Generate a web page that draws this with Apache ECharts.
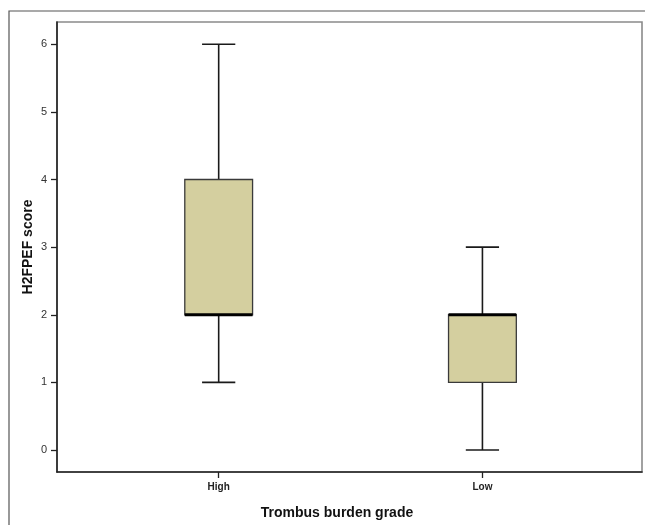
<!DOCTYPE html>
<html>
<head>
<meta charset="utf-8">
<script src="https://cdn.jsdelivr.net/npm/echarts@6/dist/echarts.min.js"></script>
<style>
  html, body { margin: 0; padding: 0; background: #fff; }
  #chart { width: 645px; height: 525px; }
</style>
</head>
<body>
<div id="chart"></div>
<script>
// groups on the x axis
var categories = ['High', 'Low']
// five-number summaries per group
var minVals = [1, 0]
var q1Vals = [2, 1]
var medianVals = [2, 2]
var q3Vals = [4, 2]
var maxVals = [6, 3]
// y axis tick labels
var yTicks = [0, 1, 2, 3, 4, 5, 6]

var boxData = categories.map(function (c, i) {
  return [i, minVals[i], q1Vals[i], medianVals[i], q3Vals[i], maxVals[i]]
})

function renderBox(params, api) {
  var x = api.value(0)
  var pMin = api.coord([x, api.value(1)])
  var pQ1 = api.coord([x, api.value(2)])
  var pMed = api.coord([x, api.value(3)])
  var pQ3 = api.coord([x, api.value(4)])
  var pMax = api.coord([x, api.value(5)])
  var boxW = api.size([0.257, 0])[0]
  var capW = api.size([0.126, 0])[0]
  var cx = pMed[0]
  var lineStyle = { stroke: '#1a1a1a', lineWidth: 1.6 }
  return {
    type: 'group',
    children: [
      { type: 'line', shape: { x1: cx, y1: pQ3[1], x2: cx, y2: pMax[1] }, style: lineStyle },
      { type: 'line', shape: { x1: cx, y1: pQ1[1], x2: cx, y2: pMin[1] }, style: lineStyle },
      { type: 'line', shape: { x1: cx - capW / 2, y1: pMax[1], x2: cx + capW / 2, y2: pMax[1] }, style: lineStyle },
      { type: 'line', shape: { x1: cx - capW / 2, y1: pMin[1], x2: cx + capW / 2, y2: pMin[1] }, style: lineStyle },
      {
        type: 'rect',
        shape: { x: cx - boxW / 2, y: pQ3[1], width: boxW, height: pQ1[1] - pQ3[1] },
        style: { fill: '#d4cf9f', stroke: '#3a3a3a', lineWidth: 1.3 }
      },
      { type: 'line', shape: { x1: cx - boxW / 2, y1: pMed[1], x2: cx + boxW / 2, y2: pMed[1] }, style: { stroke: '#000', lineWidth: 3 } }
    ]
  }
}

var chart = echarts.init(document.getElementById('chart'), null, { renderer: 'canvas' })
chart.setOption({
  backgroundColor: '#fff',
  animation: false,
  textStyle: { fontFamily: 'Liberation Sans, Arial, sans-serif' },
  graphic: [{
    type: 'rect',
    shape: { x: 9, y: 11, width: 700, height: 600 },
    style: { fill: 'none', stroke: '#555', lineWidth: 1.2 },
    silent: true
  }],
  grid: {
    left: 57, right: 3, top: 22, bottom: 52,
    show: true, borderColor: '#8a8a8a', borderWidth: 1.6, backgroundColor: '#fff'
  },
  xAxis: {
    type: 'value',
    min: -0.613,
    max: 1.605,
    splitLine: { show: false },
    axisLine: { show: true, onZero: false, lineStyle: { color: '#222', width: 1.6 } },
    axisTick: { show: true, customValues: [0, 1], length: 6, lineStyle: { color: '#222', width: 1.3 } },
    axisLabel: {
      customValues: [0, 1],
      formatter: function (v) { return categories[Math.round(v)] },
      color: '#222', fontWeight: 'bold', fontSize: 10, margin: 10
    },
    name: 'Trombus burden grade',
    nameLocation: 'middle',
    nameGap: 34,
    nameTextStyle: { color: '#111', fontWeight: 'bold', fontSize: 14, padding: [0, 25, 0, 0] }
  },
  yAxis: {
    type: 'value',
    min: -0.325,
    max: 6.329,
    splitLine: { show: false },
    axisLine: { show: true, onZero: false, lineStyle: { color: '#222', width: 1.6 } },
    axisTick: { show: true, customValues: yTicks, length: 6, lineStyle: { color: '#222', width: 1.3 } },
    axisLabel: { customValues: yTicks, color: '#333', fontSize: 11, margin: 10 },
    name: 'H2FPEF score',
    nameLocation: 'middle',
    nameMoveOverlap: false,
    nameGap: 22,
    nameTextStyle: { color: '#111', fontWeight: 'bold', fontSize: 14 }
  },
  series: [{
    type: 'custom',
    renderItem: renderBox,
    encode: { x: 0, y: [1, 2, 3, 4, 5] },
    data: boxData
  }]
})
</script>
</body>
</html>
